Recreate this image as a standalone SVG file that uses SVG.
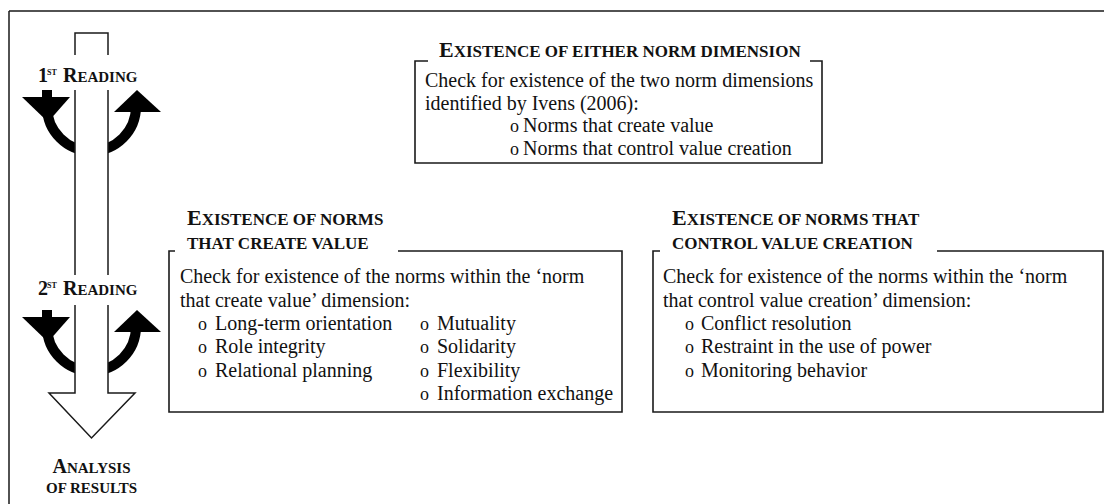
<svg xmlns="http://www.w3.org/2000/svg" width="1104" height="504" viewBox="0 0 1104 504">
<style>
.ln{fill:none;stroke:#1a1a1a;stroke-width:1.5}
.bx{fill:none;stroke:#1a1a1a;stroke-width:1.6}
.arc{fill:none;stroke:#000;stroke-width:10}
.tri{fill:#000}
.b{font-family:"Liberation Serif","Times New Roman",serif;font-size:20px;fill:#111}
.bul{font-family:"Liberation Serif","Times New Roman",serif;font-size:18px;fill:#111}
.h{font-family:"Liberation Serif","Times New Roman",serif;font-weight:bold;font-size:17px;fill:#111}
.hc{font-size:22px}
.l{font-family:"Liberation Serif","Times New Roman",serif;font-weight:bold;font-size:15px;fill:#111}
.lc{font-size:20px}
.sup{font-size:8px}
</style>
<rect width="1104" height="504" fill="#fff"/>
<g id="frame">
<path class="ln" d="M9 11 H1104 M9 11 V504"/>
</g>
<g id="process-arrow">
<path class="arc" d="M47 90 V106.5 A44.5 44.5 0 0 0 136 106.5"/>
<polygon class="tri" points="22,97 70,97 48,122"/>
<polygon class="tri" points="114,112 161,112 137,90"/>
<path class="arc" d="M47 310 V326.5 A44.5 44.5 0 0 0 136 326.5"/>
<polygon class="tri" points="22,317 70,317 48,342"/>
<polygon class="tri" points="114,332 161,332 137,310"/>
<polygon points="75,33 108,33 108,393 135,393 91.5,438 49,393 75,393" fill="#fff"/>
<path class="ln" d="M75 55 V33 H108 V55 M75 90 V275 M108 90 V275 M75 305 V393 H49 L91.5 438 L135 393 H108 V305"/>
<text class="l" x="38" y="82"><tspan class="lc">1</tspan><tspan class="sup" x="47" y="75">ST</tspan><tspan class="lc" x="63" y="82">R</tspan>EADING</text>
<text class="l" x="38" y="295"><tspan class="lc">2</tspan><tspan class="sup" x="47" y="288">ST</tspan><tspan class="lc" x="63" y="295">R</tspan>EADING</text>
<text class="l" x="91.5" y="473" text-anchor="middle"><tspan class="lc">A</tspan>NALYSIS</text>
<text class="l" x="91.5" y="493" text-anchor="middle">OF RESULTS</text>
</g>
<g id="either-dimension">
<path class="bx" d="M428 61 H415 V163 H822 V61 H810"/>
<text class="h" x="439" y="57"><tspan class="hc">E</tspan>XISTENCE OF EITHER NORM DIMENSION</text>
<text class="b" x="425" y="87">Check for existence of the two norm dimensions</text>
<text class="b" x="425" y="110">identified by Ivens (2006):</text>
<text class="bul" x="510" y="132">o</text><text class="b" x="523" y="132">Norms that create value</text>
<text class="bul" x="510" y="155">o</text><text class="b" x="523" y="155">Norms that control value creation</text>
</g>
<g id="create-value">
<path class="bx" d="M175 251 H169 V412 H622 V251 H398"/>
<text class="h" x="187" y="225"><tspan class="hc">E</tspan>XISTENCE OF NORMS</text>
<text class="h" x="187" y="249">THAT CREATE VALUE</text>
<text class="b" x="180" y="283">Check for existence of the norms within the ‘norm</text>
<text class="b" x="180" y="307">that create value’ dimension:</text>
<text class="bul" x="198" y="330">o</text><text class="b" x="215" y="330">Long-term orientation</text>
<text class="bul" x="198" y="353">o</text><text class="b" x="215" y="353">Role integrity</text>
<text class="bul" x="198" y="377">o</text><text class="b" x="215" y="377">Relational planning</text>
<text class="bul" x="420" y="330">o</text><text class="b" x="437" y="330">Mutuality</text>
<text class="bul" x="420" y="353">o</text><text class="b" x="437" y="353">Solidarity</text>
<text class="bul" x="420" y="377">o</text><text class="b" x="437" y="377">Flexibility</text>
<text class="bul" x="420" y="400">o</text><text class="b" x="437" y="400">Information exchange</text>
</g>
<g id="control-value">
<path class="bx" d="M660 251 H653 V412 H1103 V251 H937"/>
<text class="h" x="672" y="225"><tspan class="hc">E</tspan>XISTENCE OF NORMS THAT</text>
<text class="h" x="672" y="249">CONTROL VALUE CREATION</text>
<text class="b" x="663" y="283">Check for existence of the norms within the ‘norm</text>
<text class="b" x="663" y="307">that control value creation’ dimension:</text>
<text class="bul" x="685" y="330">o</text><text class="b" x="701" y="330">Conflict resolution</text>
<text class="bul" x="685" y="353">o</text><text class="b" x="701" y="353">Restraint in the use of power</text>
<text class="bul" x="685" y="377">o</text><text class="b" x="701" y="377">Monitoring behavior</text>
</g>
</svg>
